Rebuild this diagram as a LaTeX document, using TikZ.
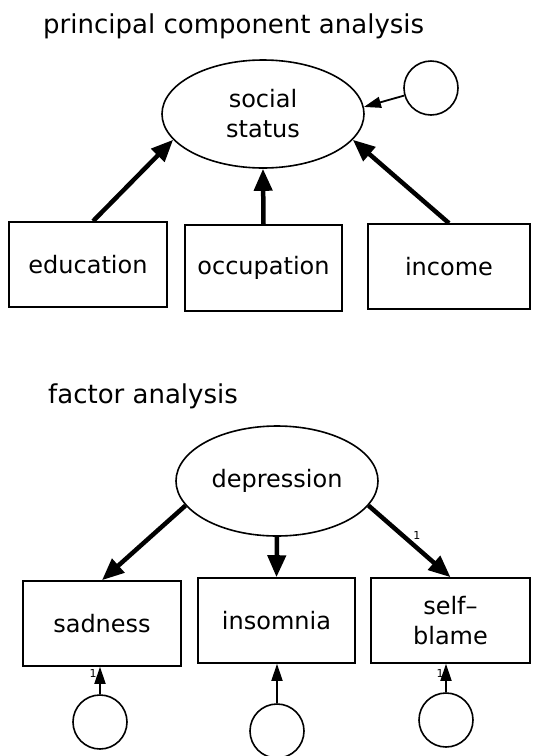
\documentclass[tikz,border=0pt]{standalone}
\usepackage{fontspec}
\setmainfont{DejaVu Sans}
\usetikzlibrary{shapes.geometric,arrows.meta}
\begin{document}
\begin{tikzpicture}[x=1pt,y=-1pt,
  every node/.style={font=\fontsize{24}{30}\selectfont},
  ttl/.style={anchor=base west,inner sep=0pt,font=\fontsize{26}{30}\selectfont},
  obsbox/.style={draw,line width=1.6pt,inner sep=0pt,align=center},
  latent/.style={draw,ellipse,line width=1.6pt,inner sep=0pt,minimum width=202pt,minimum height=108pt,align=center},
  errc/.style={draw,circle,line width=1.6pt,inner sep=0pt,minimum size=54pt},
  thick arrow/.style={line width=4.5pt,-{Triangle[length=22pt,width=18pt]}},
  thin arrow/.style={line width=1.8pt,-{Triangle[length=17pt,width=11pt]}},
  one/.style={font=\fontsize{11}{12}\selectfont,inner sep=0pt}]
\useasboundingbox (0,0) rectangle (533,756);
% ---------- top ----------
\node[ttl] (t1) at (43,33) {principal component analysis};
\node[latent] (ss) at (263,114) {social\\status};
\node[errc] (e0) at (431,88) {};
\node[obsbox,minimum width=158pt,minimum height=85pt] (edu) at (88,264.5) {education};
\node[obsbox,minimum width=157pt,minimum height=86pt] (occ) at (263.5,268) {occupation};
\node[obsbox,minimum width=162pt,minimum height=85pt] (inc) at (449,266.5) {income};
\draw[thick arrow] (edu.north) ++(5,0) -- (ss.196);
\draw[thick arrow] (occ.north) -- (ss.south);
\draw[thick arrow] (inc.north) -- (ss.344);
\draw[thin arrow] (e0) -- (ss.4);
% ---------- bottom ----------
\node[ttl] (t2) at (48,403) {factor analysis};
\node[latent,minimum height=110pt] (dep) at (277,481) {depression};
\node[obsbox,minimum width=158pt,minimum height=85pt] (sad) at (102,623.5) {sadness};
\node[obsbox,minimum width=157pt,minimum height=85pt] (ins) at (276.5,620.5) {insomnia};
\node[obsbox,minimum width=159pt,minimum height=85pt] (sb) at (450.5,620.5) {self–\\blame};
\node[errc] (e1) at (100,722) {};
\node[errc] (e2) at (277,731) {};
\node[errc] (e3) at (446,720) {};
\draw[thick arrow] (dep.195) -- (sad.north);
\draw[thick arrow] (dep.south) -- (ins.north);
\draw[thick arrow] (dep.345) -- (sb.north) node[one,pos=0.42,xshift=14pt] (l1) {1};
\draw[thin arrow] (e1) -- (e1 |- sad.south);
\draw[thin arrow] (e2) -- (e2 |- ins.south);
\draw[thin arrow] (e3) -- (e3 |- sb.south);
\node[one] (l2) at (93,673) {1};
\node[one] (l3) at (440,673) {1};
\end{tikzpicture}
\end{document}
